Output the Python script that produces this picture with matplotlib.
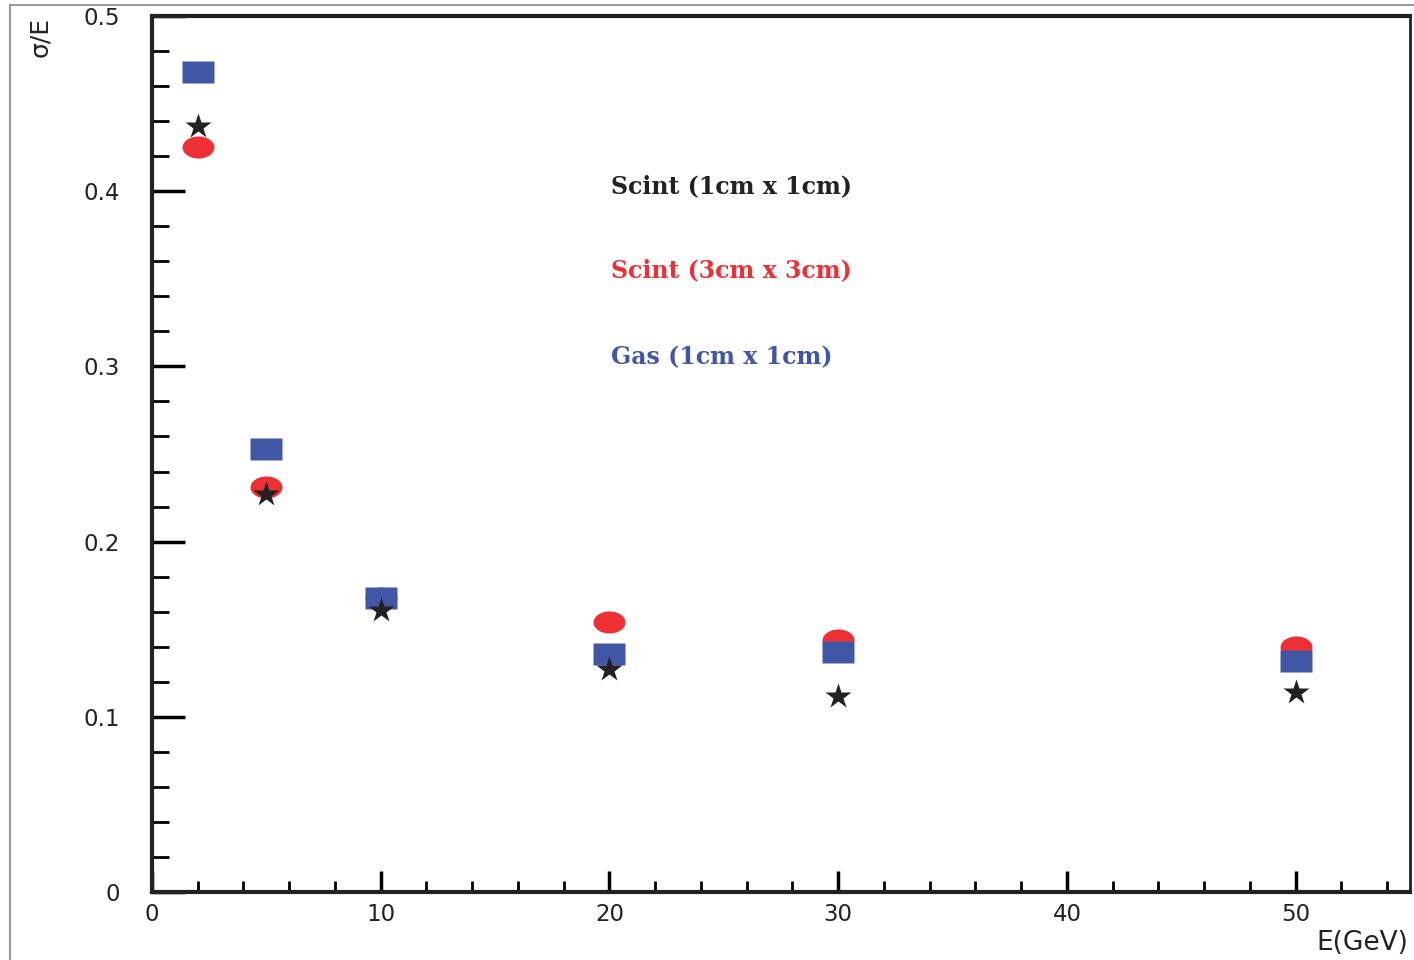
import numpy as np
import matplotlib
matplotlib.use('Agg')
import matplotlib.pyplot as plt
from matplotlib.path import Path
from matplotlib.lines import Line2D
from matplotlib.ticker import MultipleLocator

# energies (GeV) and sigma/E
energy = [2, 5, 10, 20, 30, 50]
scint_1cm = [0.437, 0.227, 0.161, 0.127, 0.112, 0.114]
scint_3cm = [0.425, 0.231, 0.168, 0.154, 0.144, 0.140]
gas_1cm = [0.468, 0.253, 0.168, 0.136, 0.137, 0.132]

labels = ['Scint (1cm x 1cm)', 'Scint (3cm x 3cm)', 'Gas (1cm x 1cm)']
colors = ['#222222', '#ee3035', '#4256a6']

# flat marker shapes like the original
rect = Path([(-1, -0.66), (1, -0.66), (1, 0.66), (-1, 0.66), (-1, -0.66)],
            [Path.MOVETO, Path.LINETO, Path.LINETO, Path.LINETO, Path.CLOSEPOLY])
circ = Path.unit_circle()
ellipse = Path(circ.vertices * np.array([1.0, 0.69]), circ.codes)

fig = plt.figure(figsize=(14.14, 9.6), dpi=100)
ax = fig.add_axes([152/1414, 68/960, (1410-152)/1414, (892-16)/960])

ax.plot(energy, scint_3cm, ls='none', marker=ellipse, ms=23, color=colors[1], mec='none')
ax.plot(energy, gas_1cm, ls='none', marker=rect, ms=23, color=colors[2], mec='none')
ax.plot(energy, scint_1cm, ls='none', marker='*', ms=19, color=colors[0], mec='none')

ax.set_xlim(0, 55)
ax.set_ylim(0, 0.5)
ax.xaxis.set_major_locator(MultipleLocator(10))
ax.xaxis.set_minor_locator(MultipleLocator(2))
ax.yaxis.set_minor_locator(MultipleLocator(0.02))
ax.set_yticks([0, 0.1, 0.2, 0.3, 0.4, 0.5])
ax.set_yticklabels(['0', '0.1', '0.2', '0.3', '0.4', '0.5'])

ax.tick_params(axis='y', which='major', direction='in', length=24, width=2.5, labelsize=16.5, pad=23)
ax.tick_params(axis='y', which='minor', direction='in', length=12, width=2)
ax.tick_params(axis='x', which='major', direction='in', length=15, width=2.5, labelsize=16.5, pad=8)
ax.tick_params(axis='x', which='minor', direction='in', length=8, width=2)
for lbl in ax.get_xticklabels() + ax.get_yticklabels():
    lbl.set_color('#222222')

for s in ['left', 'bottom', 'top']:
    ax.spines[s].set_linewidth(3)
ax.spines['right'].set_linewidth(2)
for sp in ax.spines.values():
    sp.set_color('#222222')

fig.text(40/1414, 1 - 37/960, 'σ/E', rotation=90, fontsize=18, ha='center', va='center',
         color='#222222')
fig.text(1408/1414, 1 - 943/960, 'E(GeV)', fontsize=19, ha='right', va='center',
         color='#222222')

text_y = [0.403, 0.355, 0.305]
for lab, c, ty in zip(labels, colors, text_y):
    ax.text(20.05, ty, lab, color=c, fontsize=17, fontweight='bold',
            family='DejaVu Serif', va='center', ha='left')

# grey frame of the scanned figure
fig.add_artist(Line2D([10/1414, 10/1414], [0, 1 - 5/960], transform=fig.transFigure,
                      color='#999999', lw=1.5))
fig.add_artist(Line2D([10/1414, 1], [1 - 5/960, 1 - 5/960], transform=fig.transFigure,
                      color='#999999', lw=1.5))

fig.savefig('out.png', dpi=100)
